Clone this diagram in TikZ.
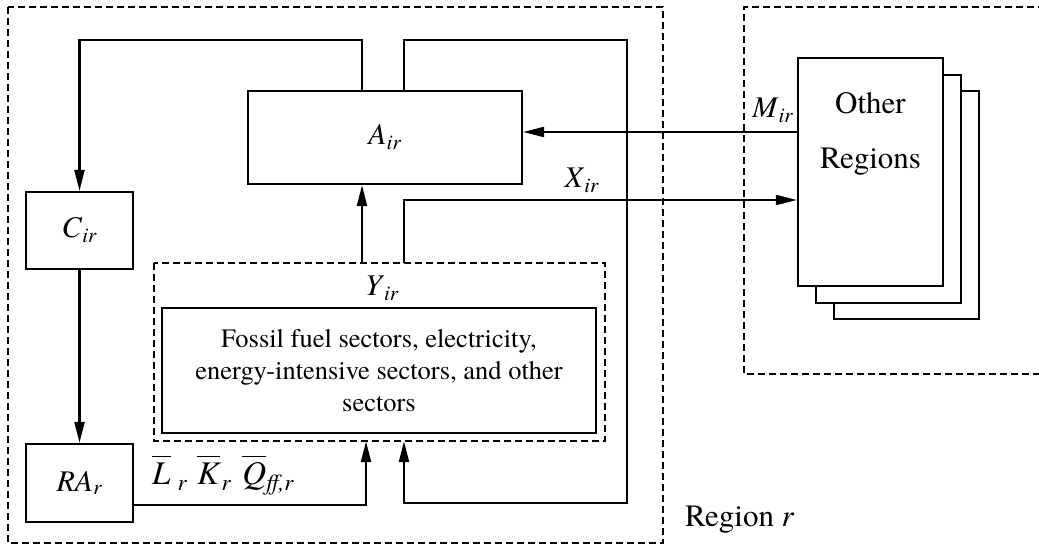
\documentclass[tikz,border=0pt]{standalone}
\usepackage{fontspec}
\IfFontExistsTF{texgyretermes-regular.otf}{%
\setmainfont{texgyretermes}[Extension=.otf,UprightFont=*-regular,ItalicFont=*-italic,BoldFont=*-bold,BoldItalicFont=*-bolditalic]}{%
\setmainfont{Liberation Serif}}
\usetikzlibrary{arrows.meta}
\newcommand{\barletter}[1]{\(\overline{\mbox{\itshape #1\rule{0pt}{26pt}}}\)}
\newcommand{\lowsub}[1]{\raisebox{-6pt}{\fontsize{23}{23}\selectfont\itshape #1}}
\begin{document}
\begin{tikzpicture}[x=1pt,y=-1pt,
  solidbox/.style={draw,line width=2.2pt,rectangle,inner sep=0pt,fill=white},
  dashbox/.style={draw,line width=2.2pt,dash pattern=on 7pt off 4pt},
  arr/.style={line width=2.2pt,-{Triangle[length=21pt,width=10pt]}},
  lbl/.style={font=\fontsize{30}{36}\selectfont,inner sep=0pt},
  big/.style={font=\fontsize{31}{37}\selectfont,inner sep=0pt}
]
\useasboundingbox (0,0) rectangle (1039,547);
% dashed region boxes
\draw[dashbox] (8,7) rectangle (663,543);
\draw[dashbox] (1045,7) -| (744,374) -- (1045,374);
\draw[dashbox] (154,263) rectangle (605,441);
\node[inner sep=0pt,minimum width=451pt,minimum height=178pt] (Y) at (379.5,352) {};
% boxes
\node[solidbox,minimum width=274pt,minimum height=93pt] (A) at (385,137.5) {};
\node[lbl] at (A.center) {\textit{A}\textsubscript{\textit{ir}}};
\node[solidbox,minimum width=107pt,minimum height=77pt] (C) at (79.5,230.5) {};
\node[lbl] at (C.center) {\textit{C}\textsubscript{\textit{ir}}};
\node[solidbox,minimum width=107pt,minimum height=78pt] (RA) at (79.5,483) {};
\node[lbl] at (RA.center) {\textit{RA}\textsubscript{\textit{r}}};
\node[solidbox,minimum width=434pt,minimum height=125pt] (S) at (379,370.5) {};
\node[inner sep=0pt,align=center,font=\fontsize{26.5}{32}\selectfont] at (S.center) {Fossil fuel sectors, electricity,\\energy-intensive sectors, and other\\sectors};
\node[lbl] (Ylab) at (382,288) {\textit{Y}\textsubscript{\textit{ir}}};
% other regions stack
\node[solidbox,minimum width=145pt,minimum height=228pt] (OR3) at (906.5,205) {};
\node[solidbox,minimum width=145pt,minimum height=228pt] (OR2) at (888.5,189) {};
\node[solidbox,minimum width=145pt,minimum height=228pt] (OR) at (870.5,172) {};
\node[big,anchor=base] at (870.5,113) {Other};
\node[big,anchor=base] at (870.5,168) {Regions};
% helper coordinates
\coordinate (ytop) at (0,40);
\coordinate (ybot) at (0,503);
\coordinate (ybotl) at (0,505);
\coordinate (xl) at (362,0);
\coordinate (xr) at (404,0);
\coordinate (xb) at (366,0);
\coordinate (xfar) at (627,0);
\coordinate (my) at (0,132);
\coordinate (xy) at (0,200);
% connectors
\draw[arr] (A.north -| xl) |- (ytop -| C.north) -- (C.north);
\draw[arr] (A.north -| xr) |- (ytop -| xfar) |- (ybot -| xr) -- (Y.south -| xr);
\draw[arr] (Y.north -| xl) -- (A.south -| xl);
\draw[arr] (Y.north -| xr) |- (xy -| OR.west);
\draw[arr] (OR.west |- my) -- (A.east |- my);
\draw[arr] (RA.east |- ybotl) -| (Y.south -| xb);
\draw[arr] (C.south) -- (RA.north);
% labels
\node[lbl] at (773,110) {\textit{M}\textsubscript{\textit{ir}}};
\node[lbl] at (582,180) {\textit{X}\textsubscript{\textit{ir}}};
\node[inner sep=0pt,anchor=base west,font=\fontsize{33}{38}\selectfont] at (152,484) {\barletter{L}\kern7pt\lowsub{r}\kern11pt\barletter{K}\kern2pt\lowsub{r}\kern12pt\barletter{Q}\kern0pt\lowsub{ff,r}};
\node[big,anchor=base west] at (685,526) {Region \textit{r}};
\end{tikzpicture}
\end{document}
